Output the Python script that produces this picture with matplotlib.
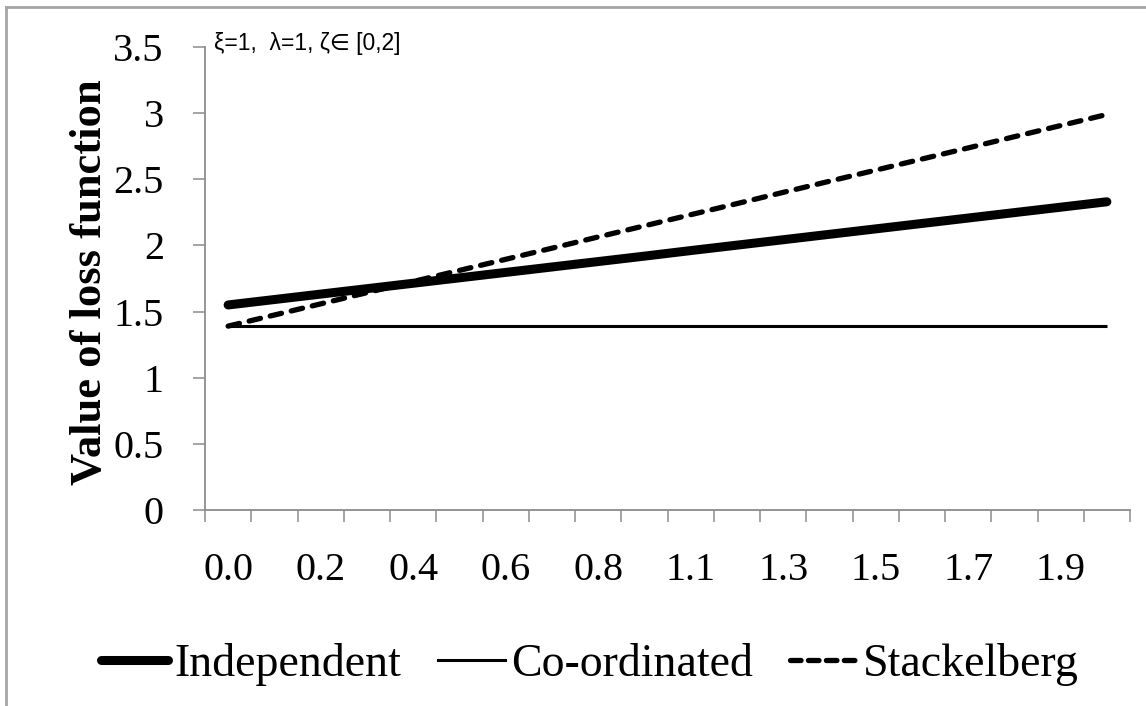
import matplotlib
matplotlib.use("Agg")
import matplotlib.pyplot as plt
from matplotlib.lines import Line2D

# zeta values in [0,2], 20 categories
zeta = [0.0, 0.105, 0.211, 0.316, 0.421, 0.526, 0.632, 0.737, 0.842, 0.947,
        1.053, 1.158, 1.263, 1.368, 1.474, 1.579, 1.684, 1.789, 1.895, 2.0]
independent = [1.550, 1.591, 1.632, 1.673, 1.714, 1.755, 1.796, 1.837, 1.878, 1.919,
               1.961, 2.002, 2.043, 2.084, 2.125, 2.166, 2.207, 2.248, 2.289, 2.330]
coordinated = [1.39] * 20
stackelberg = [1.390, 1.474, 1.558, 1.643, 1.727, 1.811, 1.895, 1.979, 2.064, 2.148,
               2.232, 2.316, 2.401, 2.485, 2.569, 2.653, 2.737, 2.822, 2.906, 2.990]
yticks = [0, 0.5, 1, 1.5, 2, 2.5, 3, 3.5]
ytick_labels = ["0", "0.5", "1", "1.5", "2", "2.5", "3", "3.5"]

serif = "Liberation Serif"
gray = "#8c8c8c"

fig = plt.figure(figsize=(11.46, 7.06), dpi=100)
ax = fig.add_axes([205/1146, 1-510/706, (1130-205)/1146, (510-47)/706])

x = list(range(len(zeta)))
ax.plot(x, independent, color="black", lw=6.5, solid_capstyle="round", label="Independent")
ax.plot(x, coordinated, color="black", lw=2.2, solid_capstyle="butt", label="Co-ordinated")
ax.plot(x, stackelberg, color="black", lw=3.8, ls=(0, (2.2, 1.9)), dash_capstyle="round",
        label="Stackelberg")

ax.set_xlim(-0.5, len(zeta) - 0.5)
ax.set_ylim(0, 3.5)

# category axis: labels on every other category, tick marks between categories
ax.set_xticks(x[::2])
ax.set_xticklabels([f"{z:.1f}" for z in zeta[::2]], fontfamily=serif, fontsize=29)
ax.set_xticks([i - 0.5 for i in range(len(zeta) + 1)], minor=True)
ax.tick_params(axis="x", which="major", length=0, pad=30)
ax.tick_params(axis="x", which="minor", length=8.6, width=1.1, color=gray, direction="out")

ax.set_yticks(yticks)
ax.set_yticklabels(ytick_labels, fontfamily=serif, fontsize=29)
ax.tick_params(axis="y", length=8.6, width=1.1, color=gray, direction="out", pad=21)

for s in ["top", "right"]:
    ax.spines[s].set_visible(False)
for s in ["left", "bottom"]:
    ax.spines[s].set_color(gray)
    ax.spines[s].set_linewidth(1.3)

ax.text(0.01, 1.008, "ξ=1,  λ=1, ζ∈ [0,2]", transform=ax.transAxes, fontsize=16.5,
        family=["Liberation Sans", "DejaVu Sans"], va="center", ha="left")

fig.text(90/1146, 1-282/706, "Value of loss function", rotation=90, ha="center", va="center",
         fontfamily=serif, fontweight="bold", fontsize=32)

handles = [Line2D([], [], color="black", lw=6.5, solid_capstyle="round"),
           Line2D([], [], color="black", lw=2.2),
           Line2D([], [], color="black", lw=3.8, ls=(0, (2.0, 1.4)), dash_capstyle="round")]
fig.legend(handles, ["Independent", "Co-ordinated", "Stackelberg"], loc="center",
           bbox_to_anchor=(0.515, 1-665/706), ncol=3, frameon=False,
           prop={"family": serif, "size": 33}, handlelength=1.45, handletextpad=0.15,
           columnspacing=0.8)

# outer chart border (left and top visible)
fig.add_artist(Line2D([6/1146, 6/1146], [0, 1-7/706], color="#a6a6a6", lw=2,
                      transform=fig.transFigure))
fig.add_artist(Line2D([6/1146, 1], [1-7/706, 1-7/706], color="#a6a6a6", lw=2,
                      transform=fig.transFigure))

fig.savefig("out.png", dpi=100)
